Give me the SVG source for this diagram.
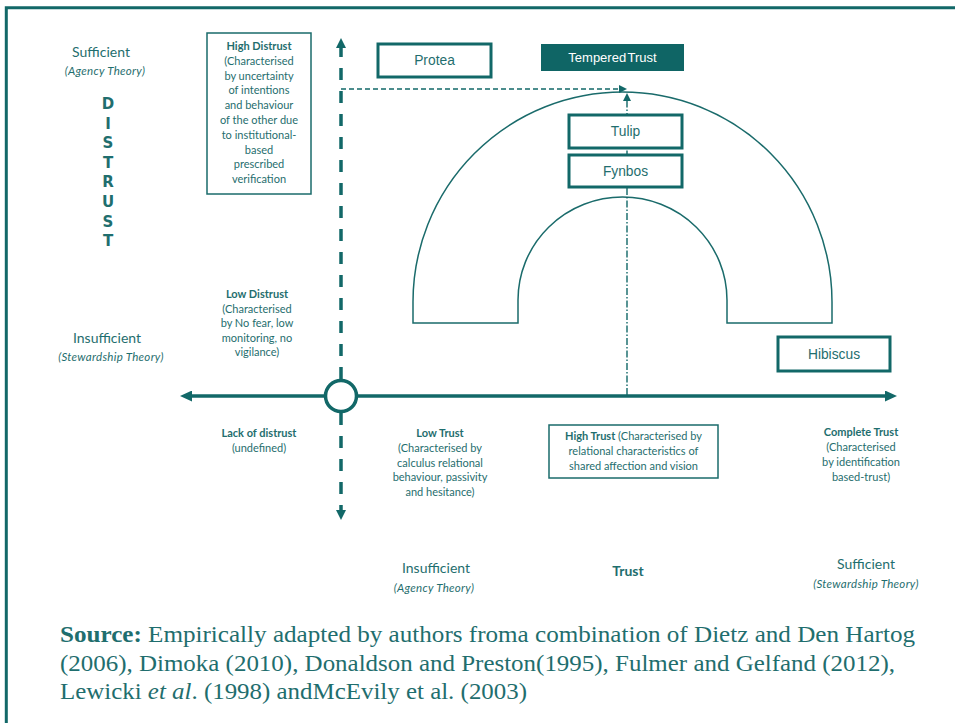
<svg xmlns="http://www.w3.org/2000/svg" width="955" height="723" viewBox="0 0 955 723">
<style>
.frame{stroke:#126868;fill:none}
.ax{stroke:#126868;stroke-width:3.5;fill:none}
.axd{stroke:#126868;stroke-width:3.5;fill:none;stroke-dasharray:12 11}
.thin{stroke:#126868;stroke-width:1.4;fill:none;stroke-dasharray:5 3}
.dd{stroke:#126868;stroke-width:1.4;fill:none;stroke-dasharray:7 2 1.5 2}
.arch{stroke:#1a6b6b;stroke-width:1.5;fill:none}
.box{stroke:#126868;stroke-width:3;fill:#fff}
.tbox{stroke:#1a6b6b;stroke-width:1.5;fill:#fff}
.lbl{font-family:"Liberation Sans",Arial,sans-serif;font-size:13.8px;fill:#1f6e6e;text-anchor:middle}
.sm{font-family:Lato,"Open Sans",sans-serif;font-size:11px;fill:#1f6e6e;text-anchor:middle}
.b{font-weight:bold}
.md{font-family:Lato,"Open Sans",sans-serif;font-size:14px;fill:#1f6e6e;text-anchor:middle}
.it{font-family:Lato,"Open Sans",sans-serif;font-size:11.5px;font-style:italic;fill:#1f6e6e;text-anchor:middle;letter-spacing:0.3px}
.big{font-family:"DejaVu Sans",Verdana,sans-serif;font-size:15px;font-weight:bold;fill:#1f6e6e;text-anchor:middle}
.src{font-family:"Liberation Serif","Times New Roman",serif;font-size:23px;fill:#1f6e6e}
</style>
<defs>
<marker id="ah" markerUnits="userSpaceOnUse" markerWidth="12" markerHeight="11" refX="4" refY="5.5" orient="auto-start-reverse">
<path d="M0,0 L12,5.5 L0,11 Z" fill="#126868"/>
</marker>
<marker id="ahv" markerUnits="userSpaceOnUse" markerWidth="10" markerHeight="10" refX="3" refY="5" orient="auto-start-reverse">
<path d="M0,0 L10,5 L0,10 Z" fill="#126868"/>
</marker>
<marker id="ahs" markerUnits="userSpaceOnUse" markerWidth="8" markerHeight="8" refX="2" refY="4" orient="auto">
<path d="M0,0 L8,4 L0,8 Z" fill="#126868"/>
</marker>
</defs>
<rect width="955" height="723" fill="#fff"/>
<path class="frame" d="M6.3,723 V7.7 H955" stroke-width="3"/>

<g id="arch">
<path class="arch" d="M413,323 L413,302 A209.5,210 0 0 1 832,302 L832,323 L727,323 L727,300 A104.5,103 0 0 0 518,300 L518,323 Z"/>
</g>

<g id="connectors">
<line class="ax" x1="188" y1="396" x2="889" y2="396" marker-start="url(#ah)" marker-end="url(#ah)"/>
<line class="axd" x1="341" y1="45" x2="341" y2="513" marker-start="url(#ahv)" marker-end="url(#ahv)"/>
<path class="thin" d="M341,89 H621" marker-end="url(#ahs)"/>
<path class="dd" d="M627,395 V99" marker-end="url(#ahs)"/>
</g>

<g id="origin">
<circle cx="341" cy="396" r="15.5" fill="#fff" stroke="#126868" stroke-width="3.5"/>
</g>

<g id="protea">
<rect class="box" x="378" y="44" width="113" height="33"/>
<text class="lbl" x="434.5" y="65">Protea</text>
</g>
<g id="tempered-trust">
<rect x="541" y="44" width="143" height="27" fill="#0f6565"/>
<text class="lbl" x="612.5" y="62" style="fill:#fff;font-size:13px;word-spacing:-2px">Tempered Trust</text>
</g>
<g id="tulip">
<rect class="box" x="569" y="115" width="113" height="33"/>
<text class="lbl" x="625.5" y="136">Tulip</text>
</g>
<g id="fynbos">
<rect class="box" x="569" y="155" width="113" height="32"/>
<text class="lbl" x="625.5" y="176">Fynbos</text>
</g>
<g id="hibiscus">
<rect class="box" x="778" y="337" width="112" height="34"/>
<text class="lbl" x="834" y="358.5">Hibiscus</text>
</g>

<g id="high-distrust">
<rect class="tbox" x="207" y="33" width="104" height="161"/>
<text class="sm b" x="259" y="50">High Distrust</text>
<text class="sm" x="259" y="64.8">(Characterised</text>
<text class="sm" x="259" y="79.6">by uncertainty</text>
<text class="sm" x="259" y="94.4">of intentions</text>
<text class="sm" x="259" y="109.2">and behaviour</text>
<text class="sm" x="259" y="124">of the other due</text>
<text class="sm" x="259" y="138.8">to institutional-</text>
<text class="sm" x="259" y="153.6">based</text>
<text class="sm" x="259" y="168.4">prescribed</text>
<text class="sm" x="259" y="183.2">verification</text>
</g>

<g id="low-distrust">
<text class="sm b" x="257" y="298">Low Distrust</text>
<text class="sm" x="257" y="312.5">(Characterised</text>
<text class="sm" x="257" y="327">by No fear, low</text>
<text class="sm" x="257" y="341.5">monitoring, no</text>
<text class="sm" x="257" y="356">vigilance)</text>
</g>

<g id="lack-of-distrust">
<text class="sm b" x="259" y="437">Lack of distrust</text>
<text class="sm" x="259" y="451.7">(undefined)</text>
</g>

<g id="low-trust">
<text class="sm b" x="440" y="437">Low Trust</text>
<text class="sm" x="440" y="452">(Characterised by</text>
<text class="sm" x="440" y="466.5">calculus relational</text>
<text class="sm" x="440" y="481">behaviour, passivity</text>
<text class="sm" x="440" y="495.5">and hesitance)</text>
</g>

<g id="high-trust">
<rect class="tbox" x="549" y="425" width="169" height="53"/>
<text class="sm" x="633.5" y="440"><tspan class="b">High Trust</tspan> (Characterised by</text>
<text class="sm" x="633.5" y="455">relational characteristics of</text>
<text class="sm" x="633.5" y="470">shared affection and vision</text>
</g>

<g id="complete-trust">
<text class="sm b" x="861" y="436">Complete Trust</text>
<text class="sm" x="861" y="451">(Characterised</text>
<text class="sm" x="861" y="466">by identification</text>
<text class="sm" x="861" y="481">based-trust)</text>
</g>

<g id="distrust-axis-labels">
<text class="md" x="101" y="57">Sufficient</text>
<text class="it" x="105" y="75">(Agency Theory)</text>
<text class="big" x="108" y="109">D</text>
<text class="big" x="108" y="128.6">I</text>
<text class="big" x="108" y="148.2">S</text>
<text class="big" x="108" y="167.8">T</text>
<text class="big" x="108" y="187.4">R</text>
<text class="big" x="108" y="207">U</text>
<text class="big" x="108" y="226.6">S</text>
<text class="big" x="108" y="246.2">T</text>
<text class="md" x="107" y="342.5">Insufficient</text>
<text class="it" x="111" y="360.5">(Stewardship Theory)</text>
</g>

<g id="trust-axis-labels">
<text class="md" x="436" y="573">Insufficient</text>
<text class="it" x="434" y="591.5">(Agency Theory)</text>
<text class="md b" x="628" y="575.5">Trust</text>
<text class="md" x="866" y="569">Sufficient</text>
<text class="it" x="866" y="587.5">(Stewardship Theory)</text>
</g>

<g id="source">
<text class="src" x="60" y="642" textLength="855" lengthAdjust="spacingAndGlyphs"><tspan font-weight="bold">Source:</tspan> Empirically adapted by authors froma combination of Dietz and Den Hartog</text>
<text class="src" x="60" y="671" textLength="835" lengthAdjust="spacingAndGlyphs">(2006), Dimoka (2010), Donaldson and Preston(1995), Fulmer and Gelfand (2012),</text>
<text class="src" x="60" y="699" textLength="467" lengthAdjust="spacingAndGlyphs">Lewicki <tspan font-style="italic">et al</tspan>. (1998) andMcEvily et al. (2003)</text>
</g>
</svg>
